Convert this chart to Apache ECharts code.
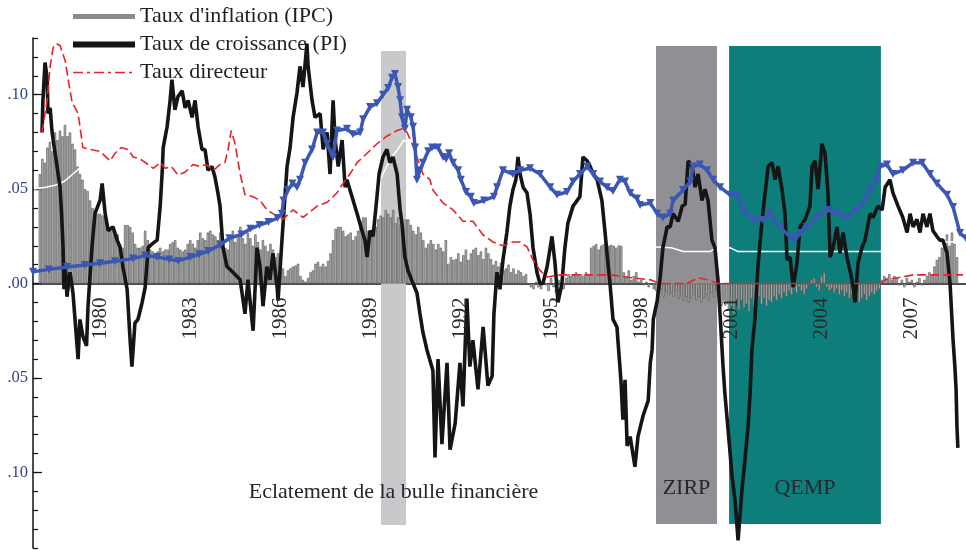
<!DOCTYPE html>
<html><head><meta charset="utf-8">
<script src="https://cdn.jsdelivr.net/npm/echarts@6/dist/echarts.min.js"></script>
<style>html,body{margin:0;padding:0;background:#fff}#c{width:966px;height:551px}</style>
</head><body><div id="c"></div><script>
// ---- axis data ----
const xMin = 1977.77, xMax = 2008.80;
const yMin = -0.14, yMax = 0.13;
const yearTicks = [1980,1983,1986,1989,1992,1995,1998,2001,2004,2007];
const yTickValues = [0.10,0.05,0,-0.05,-0.10];
const yTickLabels = ['.10','.05','.00','.05','.10'];

// ---- shaded episodes ----
const bandStart = [1989.345, 1998.49, 2000.92];
const bandEnd   = [1990.176, 2000.52, 2005.97];
const bandTop   = [0.1231, 0.1258, 0.1258];
const bandBot   = [-0.1278, -0.1273, -0.1273];
const bandLabel = ['Eclatement de la bulle financière', 'ZIRP', 'QEMP'];
const bandColor = ['#c9c9cc', '#8f8f94', '#0e7e7b'];

// ---- Taux d'inflation (IPC): monthly from Jan 1978 ----
const ipcStart = 1978.0;
const ipcMonthly = [
 0.058,0.066,0.064,0.072,0.075,0.070,0.080,0.076,0.081,0.078,0.084,0.078,
 0.080,0.074,0.071,0.062,0.058,0.055,0.050,0.049,0.044,0.040,0.039,0.037,
 0.037,0.036,0.035,0.031,0.030,0.028,0.027,0.026,0.021,0.019,0.031,0.031,
 0.030,0.027,0.021,0.019,0.019,0.020,0.028,0.023,0.018,0.017,0.016,0.017,
 0.019,0.017,0.018,0.018,0.021,0.022,0.023,0.019,0.018,0.017,0.018,0.021,
 0.023,0.021,0.019,0.023,0.027,0.024,0.023,0.027,0.028,0.026,0.025,0.023,
 0.027,0.022,0.019,0.018,0.024,0.028,0.022,0.025,0.030,0.024,0.021,0.027,
 0.024,0.020,0.026,0.022,0.018,0.023,0.020,0.017,0.021,0.018,0.014,0.016,
 0.013,0.008,0.004,0.007,0.008,0.009,0.0095,0.0105,0.004,0.002,0.001,0.003,
 0.006,0.007,0.0105,0.0115,0.009,0.0105,0.009,0.012,0.016,0.023,0.029,0.030,
 0.030,0.028,0.025,0.026,0.027,0.023,0.025,0.028,0.033,0.035,0.035,0.028,
 0.025,0.027,0.030,0.034,0.036,0.035,0.039,0.037,0.035,0.039,0.032,0.035,
 0.031,0.030,0.034,0.034,0.031,0.028,0.026,0.030,0.027,0.023,0.019,0.021,
 0.023,0.021,0.018,0.021,0.019,0.017,0.023,0.0105,0.014,0.0125,0.013,0.016,
 0.0115,0.015,0.018,0.0125,0.016,0.018,0.019,0.015,0.017,0.013,0.019,0.016,
 0.013,0.010,0.012,0.009,0.011,0.007,0.008,0.010,0.006,0.008,0.005,0.007,
 0.006,0.004,0.005,0.000,-0.002,-0.003,0.001,-0.002,-0.003,0.002,-0.001,-0.004,
 0.003,-0.002,-0.005,0.002,-0.004,-0.003,0.003,0.005,0.004,0.005,0.006,0.004,
 0.005,0.004,0.006,0.005,0.019,0.020,0.021,0.018,0.020,0.021,0.019,0.020,
 0.021,0.020,0.019,0.021,0.020,0.006,0.003,0.007,0.002,0.004,0.006,0.001,
 0.002,-0.001,0.001,-0.002,0.000,-0.003,-0.004,-0.005,-0.003,-0.007,-0.004,-0.006,
 -0.005,-0.007,-0.004,-0.008,-0.006,-0.009,-0.007,-0.010,-0.008,-0.006,-0.009,-0.007,
 -0.010,-0.008,-0.006,-0.009,-0.005,-0.007,-0.003,-0.006,-0.012,-0.009,-0.011,-0.014,
 -0.012,-0.016,-0.010,-0.014,-0.009,-0.013,-0.011,-0.015,-0.008,-0.012,-0.010,-0.007,
 -0.011,-0.008,-0.012,-0.009,-0.010,-0.007,-0.009,-0.006,-0.008,-0.005,-0.007,-0.004,
 -0.006,-0.003,-0.005,-0.002,-0.004,-0.006,-0.003,-0.001,0.002,0.003,-0.002,-0.004,
 0.004,0.006,-0.002,-0.004,-0.003,-0.005,-0.003,-0.006,-0.004,-0.007,-0.005,-0.008,
 -0.006,-0.009,-0.007,-0.010,-0.008,-0.006,-0.009,-0.007,-0.005,-0.006,-0.004,-0.003,
 0.002,0.004,0.003,0.005,0.002,0.004,0.003,-0.001,0.002,-0.002,0.003,0.001,
 0.002,-0.002,0.001,0.003,-0.001,0.002,0.004,0.006,0.005,0.009,0.0125,0.014,
 0.019,0.022,0.026,0.020,0.027,0.021,0.014
];

// ---- unlabelled white line ----
const whiteLine = [
 [1977.80,0.050],[1978.20,0.051],[1978.50,0.052],[1978.80,0.054],[1979.10,0.058],[1979.60,0.065],[1980.20,0.071],[1980.80,0.075],[1981.40,0.075],[1982.10,0.074],[1982.80,0.072],[1983.40,0.071],[1984.00,0.068],[1984.60,0.064],[1985.20,0.060],[1985.80,0.057],[1986.30,0.055],[1986.90,0.051],[1987.60,0.048],[1988.10,0.043],[1988.60,0.035],[1989.00,0.038],[1989.35,0.056],[1989.65,0.066],[1989.90,0.071],[1990.10,0.076],[1990.50,0.072],[1991.00,0.064],[1991.60,0.055],[1992.20,0.047],[1992.90,0.041],[1993.60,0.037],[1994.30,0.034],[1995.00,0.028],[1995.50,0.023],[1996.20,0.022],[1997.00,0.021],[1997.80,0.020],[1998.50,0.0194],[1999.00,0.019],[1999.40,0.017],[2000.30,0.017],[2000.45,0.0185],[2000.55,0.017],[2000.95,0.019],[2001.20,0.017],[2005.95,0.017],[2006.40,0.019],[2007.00,0.020],[2008.00,0.022],[2008.70,0.022]
];

// ---- Taux de croissance (PI) ----
const growthPI = [
 [1978.07,0.080],[1978.10,0.097],[1978.17,0.117],[1978.24,0.109],[1978.27,0.090],[1978.34,0.093],[1978.40,0.081],[1978.44,0.076],[1978.57,0.062],[1978.67,0.051],[1978.72,0.037],[1978.77,0.019],[1978.80,-0.003],[1978.84,0.011],[1978.90,-0.007],[1979.00,0.006],[1979.10,-0.005],[1979.27,-0.040],[1979.33,-0.019],[1979.43,-0.028],[1979.55,-0.033],[1979.60,-0.012],[1979.73,0.019],[1979.83,0.037],[1980.00,0.044],[1980.07,0.053],[1980.17,0.037],[1980.27,0.028],[1980.43,0.030],[1980.57,0.023],[1980.67,0.019],[1980.76,0.009],[1980.90,-0.003],[1981.00,-0.030],[1981.06,-0.044],[1981.16,-0.021],[1981.26,-0.019],[1981.40,-0.010],[1981.50,-0.002],[1981.60,0.019],[1981.73,0.021],[1981.90,0.023],[1982.00,0.041],[1982.07,0.060],[1982.10,0.072],[1982.23,0.083],[1982.33,0.097],[1982.39,0.108],[1982.49,0.092],[1982.59,0.099],[1982.73,0.102],[1982.83,0.093],[1982.93,0.097],[1983.06,0.088],[1983.16,0.097],[1983.26,0.083],[1983.39,0.071],[1983.49,0.071],[1983.59,0.060],[1983.72,0.062],[1983.82,0.0565],[1983.92,0.048],[1983.99,0.041],[1984.09,0.019],[1984.22,0.009],[1984.42,0.006],[1984.66,0.002],[1984.82,-0.016],[1984.92,0.002],[1985.05,-0.019],[1985.09,-0.025],[1985.22,0.019],[1985.32,0.009],[1985.42,-0.012],[1985.55,0.009],[1985.65,0.002],[1985.75,0.016],[1985.89,-0.002],[1985.92,-0.009],[1986.05,0.023],[1986.15,0.046],[1986.22,0.062],[1986.32,0.072],[1986.42,0.088],[1986.55,0.101],[1986.65,0.115],[1986.75,0.104],[1986.88,0.127],[1986.92,0.115],[1987.05,0.097],[1987.15,0.088],[1987.32,0.090],[1987.42,0.071],[1987.55,0.080],[1987.65,0.058],[1987.75,0.097],[1987.82,0.076],[1987.92,0.062],[1988.05,0.076],[1988.15,0.051],[1988.21,0.055],[1988.38,0.046],[1988.55,0.037],[1988.71,0.028],[1988.81,0.023],[1988.88,0.014],[1988.98,0.028],[1989.08,0.025],[1989.21,0.046],[1989.28,0.058],[1989.41,0.067],[1989.54,0.071],[1989.64,0.064],[1989.74,0.067],[1989.88,0.058],[1989.98,0.039],[1990.04,0.032],[1990.14,0.014],[1990.24,0.007],[1990.41,0.000],[1990.54,-0.005],[1990.64,-0.016],[1990.74,-0.026],[1990.87,-0.035],[1991.07,-0.046],[1991.14,-0.092],[1991.24,-0.040],[1991.37,-0.085],[1991.54,-0.042],[1991.64,-0.088],[1991.81,-0.074],[1991.97,-0.042],[1992.07,-0.065],[1992.20,-0.008],[1992.30,-0.044],[1992.40,-0.030],[1992.57,-0.056],[1992.74,-0.023],[1992.90,-0.054],[1993.04,-0.049],[1993.10,-0.016],[1993.20,0.006],[1993.30,-0.003],[1993.40,0.0125],[1993.53,0.027],[1993.63,0.041],[1993.73,0.0495],[1993.83,0.055],[1993.90,0.067],[1993.97,0.058],[1994.07,0.051],[1994.20,0.048],[1994.30,0.037],[1994.40,0.019],[1994.53,0.006],[1994.63,0.000],[1994.73,0.000],[1994.87,0.009],[1994.97,0.019],[1995.03,0.025],[1995.13,0.011],[1995.23,-0.010],[1995.36,0.000],[1995.46,0.019],[1995.56,0.032],[1995.73,0.041],[1995.96,0.046],[1996.06,0.067],[1996.20,0.065],[1996.30,0.062],[1996.40,0.058],[1996.53,0.055],[1996.69,0.044],[1996.79,0.028],[1996.89,0.011],[1996.96,0.000],[1997.06,-0.019],[1997.19,-0.023],[1997.29,-0.044],[1997.33,-0.053],[1997.39,-0.072],[1997.46,-0.051],[1997.53,-0.086],[1997.63,-0.081],[1997.79,-0.097],[1997.89,-0.081],[1998.06,-0.070],[1998.23,-0.062],[1998.30,-0.042],[1998.36,-0.035],[1998.40,-0.019],[1998.53,-0.009],[1998.63,0.0035],[1998.72,0.019],[1998.86,0.030],[1998.96,0.030],[1999.06,0.037],[1999.23,0.033],[1999.36,0.041],[1999.46,0.042],[1999.56,0.065],[1999.69,0.062],[1999.79,0.051],[1999.89,0.058],[2000.02,0.044],[2000.12,0.050],[2000.22,0.044],[2000.35,0.023],[2000.45,0.019],[2000.55,0.002],[2000.62,-0.016],[2000.72,-0.044],[2000.78,-0.058],[2000.88,-0.076],[2001.02,-0.102],[2001.12,-0.115],[2001.22,-0.136],[2001.35,-0.109],[2001.45,-0.093],[2001.55,-0.076],[2001.62,-0.058],[2001.68,-0.035],[2001.78,-0.019],[2001.88,0.009],[2002.02,0.034],[2002.12,0.048],[2002.22,0.062],[2002.35,0.064],[2002.45,0.055],[2002.55,0.062],[2002.68,0.050],[2002.78,0.037],[2002.85,0.0125],[2002.95,0.014],[2003.05,-0.002],[2003.18,0.011],[2003.28,0.030],[2003.45,0.034],[2003.61,0.041],[2003.68,0.062],[2003.78,0.065],[2003.88,0.050],[2004.01,0.074],[2004.11,0.069],[2004.21,0.048],[2004.28,0.014],[2004.38,0.019],[2004.51,0.030],[2004.61,0.016],[2004.71,0.027],[2004.84,0.014],[2005.01,0.002],[2005.11,-0.010],[2005.21,0.011],[2005.34,0.019],[2005.44,0.023],[2005.61,0.037],[2005.71,0.035],[2005.87,0.041],[2006.01,0.039],[2006.11,0.051],[2006.27,0.055],[2006.37,0.048],[2006.54,0.041],[2006.70,0.035],[2006.84,0.027],[2006.94,0.037],[2007.04,0.030],[2007.17,0.034],[2007.27,0.027],[2007.37,0.037],[2007.50,0.030],[2007.60,0.037],[2007.70,0.028],[2007.83,0.025],[2007.93,0.023],[2008.03,0.023],[2008.17,0.016],[2008.27,0.000],[2008.37,-0.030],[2008.43,-0.044],[2008.47,-0.056],[2008.50,-0.076],[2008.53,-0.087]
];

// ---- Taux directeur ----
const policyRate = [
 [1978.07,0.080],[1978.24,0.097],[1978.34,0.115],[1978.44,0.125],[1978.55,0.127],[1978.67,0.126],[1978.84,0.118],[1978.94,0.108],[1979.07,0.096],[1979.27,0.090],[1979.43,0.072],[1979.67,0.071],[1980.00,0.070],[1980.33,0.065],[1980.50,0.069],[1980.70,0.072],[1980.93,0.071],[1981.10,0.067],[1981.33,0.066],[1981.60,0.063],[1981.77,0.061],[1982.00,0.064],[1982.17,0.061],[1982.37,0.062],[1982.59,0.0575],[1982.83,0.059],[1983.09,0.063],[1983.33,0.062],[1983.53,0.063],[1983.77,0.060],[1983.99,0.063],[1984.15,0.064],[1984.26,0.071],[1984.36,0.081],[1984.49,0.074],[1984.66,0.058],[1984.82,0.047],[1985.09,0.046],[1985.32,0.044],[1985.55,0.039],[1985.75,0.037],[1986.08,0.034],[1986.42,0.039],[1986.75,0.035],[1987.22,0.041],[1987.55,0.043],[1987.88,0.048],[1988.08,0.053],[1988.31,0.058],[1988.55,0.064],[1988.88,0.069],[1989.21,0.074],[1989.54,0.078],[1989.88,0.081],[1990.08,0.082],[1990.21,0.080],[1990.38,0.074],[1990.54,0.067],[1990.74,0.058],[1990.97,0.055],[1991.07,0.0495],[1991.41,0.0426],[1991.74,0.039],[1992.07,0.033],[1992.40,0.033],[1992.74,0.0257],[1993.07,0.022],[1993.40,0.020],[1993.73,0.022],[1993.97,0.022],[1994.20,0.0194],[1994.40,0.0125],[1994.63,0.007],[1994.87,0.0035],[1995.30,0.0046],[1996.20,0.0046],[1996.96,0.0046],[1997.73,0.003],[1998.30,0.002],[1998.63,0.000],[1999.50,0.000],[1999.89,0.003],[2000.22,0.002],[2000.55,0.000],[2005.97,0.000],[2006.10,0.002],[2006.70,0.0035],[2007.04,0.0046],[2008.70,0.0046]
];

// ---- blue triangle series (not in legend) ----
const blueSeries = [
 [1977.77,0.0062],[1978.30,0.0075],[1978.90,0.0088],[1979.50,0.0098],[1980.00,0.0108],[1980.50,0.0118],[1981.10,0.0132],[1981.50,0.0148],[1981.90,0.0140],[1982.30,0.0128],[1982.60,0.0120],[1983.00,0.0140],[1983.30,0.0155],[1983.60,0.0172],[1984.00,0.0205],[1984.30,0.0240],[1984.70,0.0260],[1985.00,0.0290],[1985.30,0.0310],[1985.60,0.0326],[1985.90,0.0347],[1986.05,0.0370],[1986.10,0.044],[1986.25,0.0495],[1986.40,0.053],[1986.55,0.051],[1986.65,0.055],[1986.82,0.064],[1987.05,0.071],[1987.22,0.080],[1987.42,0.080],[1987.55,0.074],[1987.75,0.067],[1987.88,0.081],[1988.21,0.082],[1988.41,0.079],[1988.65,0.080],[1988.75,0.087],[1988.98,0.0935],[1989.21,0.0955],[1989.41,0.100],[1989.58,0.1035],[1989.71,0.109],[1989.81,0.111],[1989.91,0.104],[1989.98,0.097],[1990.04,0.088],[1990.14,0.082],[1990.21,0.092],[1990.34,0.088],[1990.41,0.083],[1990.48,0.072],[1990.54,0.055],[1990.64,0.060],[1990.74,0.064],[1990.91,0.070],[1991.04,0.072],[1991.24,0.072],[1991.41,0.067],[1991.51,0.066],[1991.61,0.069],[1991.74,0.064],[1991.91,0.060],[1992.00,0.055],[1992.17,0.0485],[1992.33,0.046],[1992.43,0.0426],[1992.77,0.044],[1993.10,0.046],[1993.20,0.051],[1993.40,0.060],[1993.73,0.058],[1993.97,0.060],[1994.30,0.061],[1994.63,0.058],[1994.97,0.051],[1995.20,0.047],[1995.53,0.0485],[1995.73,0.054],[1995.96,0.058],[1996.20,0.062],[1996.40,0.058],[1996.63,0.054],[1996.86,0.051],[1997.06,0.049],[1997.29,0.055],[1997.46,0.054],[1997.63,0.048],[1997.86,0.045],[1997.96,0.0416],[1998.30,0.0426],[1998.53,0.037],[1998.72,0.035],[1998.96,0.037],[1999.06,0.044],[1999.39,0.0495],[1999.63,0.054],[1999.72,0.062],[1999.95,0.063],[2000.19,0.060],[2000.39,0.055],[2000.62,0.051],[2000.95,0.047],[2001.18,0.047],[2001.38,0.039],[2001.72,0.0336],[2002.05,0.0336],[2002.28,0.037],[2002.61,0.030],[2002.95,0.0247],[2003.11,0.023],[2003.28,0.0267],[2003.51,0.030],[2003.84,0.035],[2004.18,0.039],[2004.51,0.037],[2004.84,0.035],[2005.17,0.039],[2005.37,0.0426],[2005.61,0.0495],[2005.84,0.055],[2005.94,0.062],[2006.17,0.063],[2006.37,0.058],[2006.70,0.060],[2007.04,0.064],[2007.34,0.064],[2007.60,0.058],[2007.83,0.053],[2008.17,0.047],[2008.37,0.0405],[2008.60,0.0267],[2008.80,0.024]
];

const SERIF = "'Liberation Serif','DejaVu Serif',serif";
const names = ["Taux d'inflation (IPC)", 'Taux de croissance (PI)', 'Taux directeur'];
const GRID = { left: 33, right: 0, top: 38, bottom: 3 };
const gridH = 551 - GRID.top - GRID.bottom;
// shift of the labelled x axis from the grid bottom up to the zero line
const zeroOffset = -((0 - yMin) / (yMax - yMin)) * gridH;

const bandAreas = bandStart.map((s, i) => [
  { name: bandLabel[i], xAxis: s, yAxis: bandTop[i], itemStyle: { color: bandColor[i], opacity: 1 },
    label: { show: true, position: 'insideBottom', distance: i === 0 ? 22 : 25,
      fontFamily: SERIF, fontSize: 22, color: '#262630' } },
  { xAxis: bandEnd[i], yAxis: bandBot[i] }
]);

const chart = echarts.init(document.getElementById('c'), null, { renderer: 'canvas' });
chart.setOption({
  animation: false,
  backgroundColor: '#ffffff',
  grid: Object.assign({ containLabel: false, outerBoundsMode: 'none' }, GRID),
  legend: {
    orient: 'vertical', left: 70, top: 4, padding: 0, itemWidth: 62, itemHeight: 5, itemGap: 3,
    selectedMode: false,
    textStyle: { fontFamily: SERIF, fontSize: 22, color: '#1f1f24', lineHeight: 25 },
    data: [
      { name: names[0], icon: 'rect', itemStyle: { color: '#8a8a8a', borderWidth: 0 } },
      { name: names[1], itemStyle: { opacity: 0 }, lineStyle: { width: 6, color: '#151515' } },
      { name: names[2], itemStyle: { opacity: 0 }, lineStyle: { width: 1.6, color: '#e8232a', type: [10, 4, 3, 4] } }
    ]
  },
  xAxis: [
    { type: 'value', min: xMin, max: xMax,
      axisLine: { onZero: true, lineStyle: { color: '#111', width: 1.5 } },
      axisTick: { show: false }, splitLine: { show: false }, axisLabel: { show: false } },
    { type: 'value', min: xMin, max: xMax, position: 'bottom', offset: zeroOffset, z: 20,
      axisLine: { show: false, onZero: false }, axisTick: { show: false }, splitLine: { show: false },
      axisLabel: {
        customValues: yearTicks, rotate: 90, margin: 14,
        fontFamily: SERIF, fontSize: 21, color: '#2a2a2a',
        formatter: v => String(Math.round(v))
      } }
  ],
  yAxis: [
    { type: 'value', min: yMin, max: yMax, interval: 0.01,
      axisLine: { show: true, onZero: false, lineStyle: { color: '#111', width: 1.5 } },
      axisTick: { show: true, inside: true, length: 5, lineStyle: { color: '#111', width: 1.2 } },
      axisLabel: { show: false }, splitLine: { show: false } },
    { type: 'value', min: yMin, max: yMax, position: 'left',
      axisLine: { show: false, onZero: false },
      axisTick: { show: true, inside: true, length: 9, customValues: yTickValues, lineStyle: { color: '#111', width: 1.2 } },
      axisLabel: { customValues: yTickValues, margin: 5, fontFamily: SERIF, fontSize: 16.5, color: '#2e4390',
        formatter: v => { const k = yTickValues.findIndex(t => Math.abs(t - v) < 1e-6); return k >= 0 ? yTickLabels[k] : ''; } },
      splitLine: { show: false } }
  ],
  series: [
    { type: 'line', name: 'bands', data: [[xMin, 0]], symbol: 'none', lineStyle: { opacity: 0 }, z: 1, silent: true,
      markArea: { silent: true, data: bandAreas } },
    { type: 'bar', name: names[0], data: ipcMonthly.map((v, i) => [ipcStart + i / 12, v]),
      barWidth: 2.4, itemStyle: { color: '#b4b4b4', borderColor: '#5c5c5c', borderWidth: 0.7 }, z: 2, silent: true },
    { type: 'line', name: 'white', data: whiteLine, symbol: 'none', lineStyle: { color: '#ffffff', width: 1.5 }, z: 3, silent: true },
    { type: 'line', name: names[1], data: growthPI, symbol: 'none', lineStyle: { color: '#151515', width: 3.6 }, z: 4, silent: true },
    { type: 'line', name: names[2], data: policyRate, symbol: 'none', lineStyle: { color: '#e8232a', width: 1.6, type: [9, 4] }, z: 5, silent: true },
    { type: 'line', name: 'bleu', data: blueSeries, symbol: 'triangle', symbolRotate: 180, symbolSize: 8, showAllSymbol: true,
      itemStyle: { color: '#3b57b3' }, lineStyle: { color: '#3b57b3', width: 3.5 }, z: 6, silent: true }
  ]
});
</script></body></html>
